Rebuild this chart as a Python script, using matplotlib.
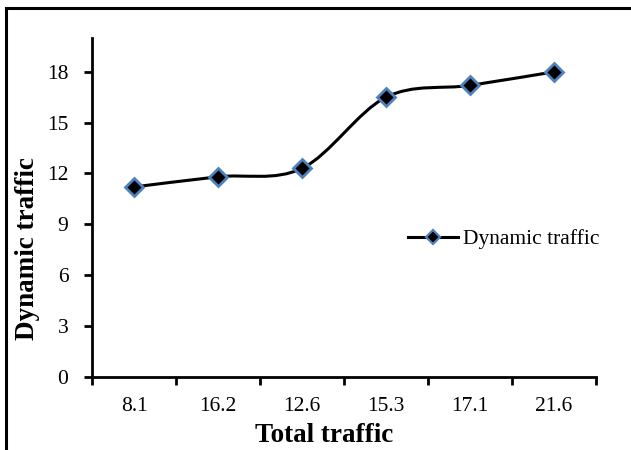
import matplotlib
matplotlib.use("Agg")
import matplotlib.pyplot as plt
from matplotlib.path import Path
from matplotlib.patches import PathPatch
from matplotlib.lines import Line2D

plt.rcParams['font.family'] = ['Liberation Serif', 'DejaVu Serif']

# Data
categories = ['8.1', '16.2', '12.6', '15.3', '17.1', '21.6']
dynamic = [11.2, 11.8, 12.3, 16.5, 17.2, 18.0]

line_color = 'black'
marker_face = 'black'
marker_edge = '#4F81BD'

W, H = 631, 450
fig = plt.figure(figsize=(W / 100, H / 100), dpi=100)

# outer frame (top and left edges visible)
fig.add_artist(Line2D([5.5 / W, 1.0], [1 - 7.5 / H, 1 - 7.5 / H], color='black', lw=2.2))
fig.add_artist(Line2D([6 / W, 6 / W], [0, 1 - 7.5 / H], color='black', lw=2.2))

ax_left, ax_right, ax_top, ax_bottom = 92, 596, 38, 376.5
ax = fig.add_axes([ax_left / W, 1 - ax_bottom / H, (ax_right - ax_left) / W, (ax_bottom - ax_top) / H])

x = list(range(len(categories)))

# smoothed line through the points (cubic Bezier, Catmull-Rom style)
verts = [(x[0], dynamic[0])]
codes = [Path.MOVETO]
n = len(x)
for i in range(n - 1):
    p0 = (x[max(i - 1, 0)], dynamic[max(i - 1, 0)])
    p1 = (x[i], dynamic[i])
    p2 = (x[i + 1], dynamic[i + 1])
    p3 = (x[min(i + 2, n - 1)], dynamic[min(i + 2, n - 1)])
    c1 = (p1[0] + (p2[0] - p0[0]) / 6, p1[1] + (p2[1] - p0[1]) / 6)
    c2 = (p2[0] - (p3[0] - p1[0]) / 6, p2[1] - (p3[1] - p1[1]) / 6)
    verts += [c1, c2, p2]
    codes += [Path.CURVE4] * 3
ax.add_patch(PathPatch(Path(verts, codes), fill=False, edgecolor=line_color, lw=2.2, zorder=2))

ax.plot(x, dynamic, linestyle='none', marker='D', markersize=9.5,
        markerfacecolor=marker_face, markeredgecolor=marker_edge, markeredgewidth=2, zorder=3)

ax.set_xlim(-0.5, len(categories) - 0.5)
ax.set_ylim(0, 20)
ax.set_yticks(range(0, 19, 3))
ax.set_xticks(x)
ax.set_xticklabels(categories)
ax.set_xticks([i - 0.5 for i in range(len(categories) + 1)], minor=True)
ax.tick_params(axis='x', which='major', length=0, pad=15, labelsize=15.5)
ax.tick_params(axis='x', which='minor', length=6, width=2, direction='out')
ax.tick_params(axis='y', length=6, width=2, direction='out', labelsize=15.5, pad=11)

for side in ['top', 'right']:
    ax.spines[side].set_visible(False)
for side in ['left', 'bottom']:
    ax.spines[side].set_linewidth(2)

ax_w = ax_right - ax_left
ax_h = ax_bottom - ax_top
ax.set_xlabel('Total traffic', fontsize=19.5, fontweight='bold')
ax.xaxis.set_label_coords((324 - ax_left) / ax_w, (ax_bottom - 436) / ax_h)
ax.xaxis.label.set_va('center')
ax.set_ylabel('Dynamic traffic', fontsize=19.5, fontweight='bold')
ax.yaxis.set_label_coords((28 - ax_left) / ax_w, (ax_bottom - 249) / ax_h)
ax.yaxis.label.set_va('center')

legend_handle = Line2D([], [], color=line_color, lw=2.2, marker='D', markersize=7.5,
                       markerfacecolor=marker_face, markeredgecolor=marker_edge, markeredgewidth=1.6)
ax.legend([legend_handle], ['Dynamic traffic'], loc='center left',
          bbox_to_anchor=((408 - ax_left) / ax_w, (ax_bottom - 239) / ax_h),
          frameon=False, fontsize=15.5, handlelength=2.3, handletextpad=0.25, borderpad=0, borderaxespad=0)

fig.savefig('out.png', dpi=100)
